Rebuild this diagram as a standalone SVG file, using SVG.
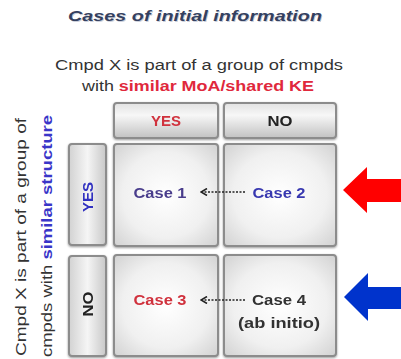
<svg xmlns="http://www.w3.org/2000/svg" width="401" height="359" viewBox="0 0 401 359">
<defs>
<linearGradient id="hdr" x1="0" y1="0" x2="0" y2="1">
<stop offset="0" stop-color="#e2e2e2"/>
<stop offset="0.35" stop-color="#f7f7f7"/>
<stop offset="1" stop-color="#c2c2c2"/>
</linearGradient>
<linearGradient id="side" x1="0" y1="0" x2="1" y2="0">
<stop offset="0" stop-color="#d2d2d2"/>
<stop offset="0.5" stop-color="#f5f5f5"/>
<stop offset="1" stop-color="#c8c8c8"/>
</linearGradient>
<radialGradient id="cell" cx="0.5" cy="0.5" r="0.7">
<stop offset="0" stop-color="#ffffff"/>
<stop offset="0.6" stop-color="#f0f0f0"/>
<stop offset="1" stop-color="#d2d2d2"/>
</radialGradient>
<filter id="sh" x="-10%" y="-10%" width="120%" height="120%">
<feGaussianBlur in="SourceAlpha" stdDeviation="1"/>
<feOffset dx="0" dy="1"/>
<feComponentTransfer><feFuncA type="linear" slope="0.4"/></feComponentTransfer>
<feMerge><feMergeNode/><feMergeNode in="SourceGraphic"/></feMerge>
</filter>
<marker id="open" markerWidth="8" markerHeight="8" refX="7" refY="4" orient="auto" markerUnits="userSpaceOnUse">
<path d="M1,0.5 L7,4 L1,7.5" fill="none" stroke="#222" stroke-width="1.6"/>
</marker>
</defs>
<style>
.t{font-family:"Liberation Sans",Arial,sans-serif;}
.box{stroke:#8c8c8c;stroke-width:2;}
.lbl{font-family:"Liberation Sans",Arial,sans-serif;font-weight:bold;font-size:15px;text-anchor:middle;}
.dot{stroke:#222;stroke-width:1.4;stroke-dasharray:2 1.5;fill:none;}
</style>
<rect width="401" height="359" fill="#ffffff"/>

<g id="title">
<text class="t" x="195" y="21" text-anchor="middle" font-size="15.5" font-weight="bold" font-style="italic" fill="#9aa3b8" opacity="0.5" textLength="254" lengthAdjust="spacingAndGlyphs" transform="translate(1,1)">Cases of initial information</text>
<text class="t" x="195" y="21" text-anchor="middle" font-size="15.5" font-weight="bold" font-style="italic" fill="#34405f" textLength="254" lengthAdjust="spacingAndGlyphs">Cases of initial information</text>
</g>

<g id="top-question">
<text class="t" x="199" y="70" text-anchor="middle" font-size="14" fill="#333" textLength="288" lengthAdjust="spacingAndGlyphs">Cmpd X is part of a group of cmpds</text>
<text class="t" x="198" y="91" text-anchor="middle" font-size="14" fill="#333" textLength="232" lengthAdjust="spacingAndGlyphs">with <tspan fill="#e0283c" font-weight="bold">similar MoA/shared KE</tspan></text>
</g>

<g id="side-question">
<text class="t" transform="translate(26,237) rotate(-90)" text-anchor="middle" font-size="14" fill="#333" textLength="238" lengthAdjust="spacingAndGlyphs">Cmpd X is part of a group of</text>
<text class="t" transform="translate(52,236) rotate(-90)" text-anchor="middle" font-size="14" fill="#333" textLength="242" lengthAdjust="spacingAndGlyphs">cmpds with <tspan fill="#3a35c8" font-weight="bold">similar structure</tspan></text>
</g>

<g id="hdr-yes" filter="url(#sh)">
<rect class="box" x="114" y="103" width="104" height="35" rx="3" fill="url(#hdr)"/>
<text class="lbl" x="166" y="126" fill="#d0303c" textLength="30" lengthAdjust="spacingAndGlyphs">YES</text>
</g>
<g id="hdr-no" filter="url(#sh)">
<rect class="box" x="224" y="103" width="112" height="35" rx="3" fill="url(#hdr)"/>
<text class="lbl" x="280" y="126" fill="#222" textLength="25" lengthAdjust="spacingAndGlyphs">NO</text>
</g>

<g id="row-yes" filter="url(#sh)">
<rect class="box" x="69" y="144" width="37" height="101" rx="3" fill="url(#side)"/>
<text class="lbl" transform="translate(93,197) rotate(-90)" fill="#3030c0" textLength="30" lengthAdjust="spacingAndGlyphs">YES</text>
</g>
<g id="row-no" filter="url(#sh)">
<rect class="box" x="69" y="256" width="37" height="100" rx="3" fill="url(#side)"/>
<text class="lbl" transform="translate(93,304) rotate(-90)" fill="#222" textLength="25" lengthAdjust="spacingAndGlyphs">NO</text>
</g>

<g id="case1" filter="url(#sh)">
<rect class="box" x="114" y="144" width="104" height="102" rx="3" fill="url(#cell)"/>
<text class="lbl" x="160" y="198" fill="#4a3e8c" textLength="53" lengthAdjust="spacingAndGlyphs">Case 1</text>
</g>
<g id="case2" filter="url(#sh)">
<rect class="box" x="224" y="144" width="112" height="102" rx="3" fill="url(#cell)"/>
<text class="lbl" x="279" y="198" fill="#3838b0" textLength="53" lengthAdjust="spacingAndGlyphs">Case 2</text>
</g>
<g id="case3" filter="url(#sh)">
<rect class="box" x="114" y="255" width="104" height="101" rx="3" fill="url(#cell)"/>
<text class="lbl" x="160" y="305" fill="#d0303c" textLength="53" lengthAdjust="spacingAndGlyphs">Case 3</text>
</g>
<g id="case4" filter="url(#sh)">
<rect class="box" x="224" y="255" width="112" height="101" rx="3" fill="url(#cell)"/>
<text class="lbl" x="279" y="305" fill="#333" textLength="54" lengthAdjust="spacingAndGlyphs">Case 4</text>
<text class="lbl" x="279" y="328" fill="#333" textLength="82" lengthAdjust="spacingAndGlyphs">(ab initio)</text>
</g>

<g id="connectors">
<line class="dot" x1="245" y1="192" x2="201" y2="192" marker-end="url(#open)"/>
<line class="dot" x1="245" y1="300" x2="201" y2="300" marker-end="url(#open)"/>
</g>

<g id="red-arrow">
<polygon points="343,190 367,167 367,179 401,179 401,202 367,202 367,213" fill="#ff0000"/>
</g>
<g id="blue-arrow">
<polygon points="344,297 368,273 368,287 401,287 401,309 368,309 368,321" fill="#0033cc"/>
</g>
</svg>
